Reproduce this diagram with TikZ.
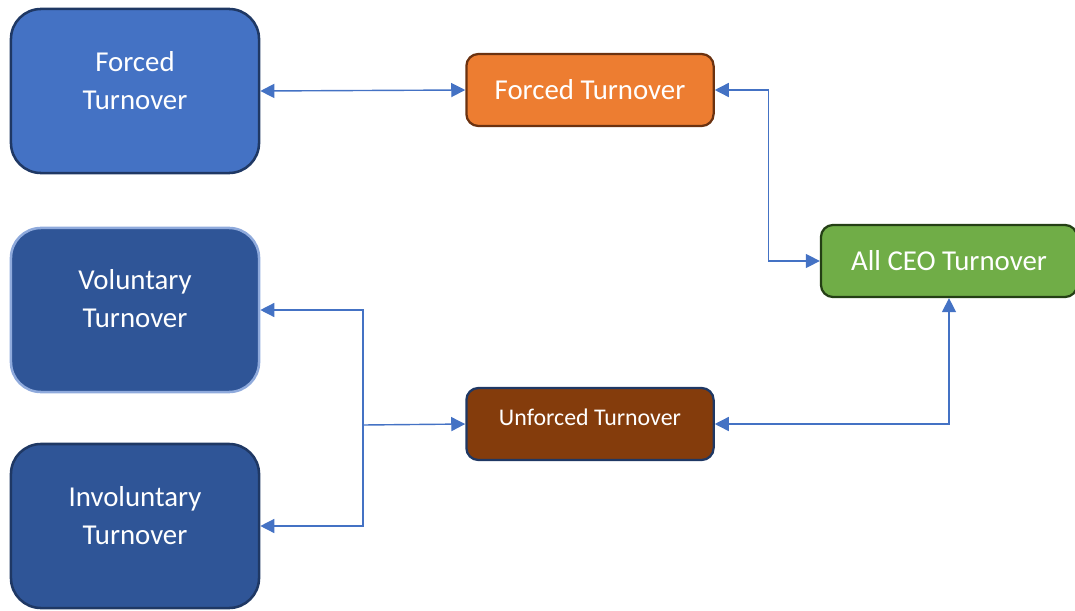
\documentclass[tikz,border=0pt]{standalone}
\usepackage{fontspec}
\setmainfont{Carlito}
\usetikzlibrary{arrows.meta}

\definecolor{linkblue}{HTML}{4472C4}
\definecolor{midblue}{HTML}{4472C4}
\definecolor{deepblue}{HTML}{2F5597}
\definecolor{navyline}{HTML}{1F3864}
\definecolor{paleline}{HTML}{8FAADC}
\definecolor{orangefill}{HTML}{ED7D31}
\definecolor{brownfill}{HTML}{843C0C}
\definecolor{brownline}{HTML}{6B3210}
\definecolor{greenfill}{HTML}{70AD47}
\definecolor{greenline}{HTML}{243F15}

\tikzset{
  bigbox/.style={draw, line width=1.8pt, rounded corners=0.75cm,
    minimum width=6.2cm, minimum height=4.1cm},
  smallbox/.style={draw, line width=1.6pt, rounded corners=0.3cm,
    minimum width=6.18cm, minimum height=1.8cm},
  boxtext/.style={text=white, align=center, font=\fontsize{20.5}{27}\selectfont},
  link/.style={linkblue, line width=1pt,
    -{Triangle[length=0.35cm,width=0.35cm]}},
  twolink/.style={linkblue, line width=1pt,
    {Triangle[length=0.35cm,width=0.35cm]}-{Triangle[length=0.35cm,width=0.35cm]}}
}

\begin{document}
\begin{tikzpicture}[x=0.025cm,y=-0.025cm]
  \useasboundingbox (0,0) rectangle (1075,610);

  % left column
  \node[bigbox, fill=midblue, draw=navyline] (ft) at (135,91) {};
  \node[boxtext] (fttext) at (135,81) {Forced\\Turnover};
  \node[bigbox, fill=deepblue, draw=paleline] (vol) at (135,310) {};
  \node[boxtext] (voltext) at (135,299) {Voluntary\\Turnover};
  \node[bigbox, fill=deepblue, draw=navyline] (invol) at (135,526) {};
  \node[boxtext] (involtext) at (135,516) {Involuntary\\Turnover};

  % middle column
  \node[smallbox, fill=orangefill, draw=brownline, boxtext] (forced) at (590,90) {Forced Turnover};
  \node[smallbox, fill=brownfill, draw=navyline] (unforced) at (590,424) {};
  \node[text=white, font=\fontsize{17}{20}\selectfont] (unforcedtext) at (590,417) {Unforced Turnover};

  % right
  \node[smallbox, fill=greenfill, draw=greenline, boxtext, minimum width=6.4cm] (ceo) at (949,261) {All CEO Turnover};

  % connectors
  \draw[twolink] (ft.east) -- (forced.west);
  \draw[twolink] (forced.east) -- ++(54,0) |- (ceo.west);
  \draw[twolink] (unforced.east) -| (ceo.south);

  \coordinate (split) at (363,425);
  \draw[link] (split) -- (unforced.west);
  \draw[link] (split) |- (vol.east);
  \draw[link] (split) |- (invol.east);

\end{tikzpicture}
\end{document}
